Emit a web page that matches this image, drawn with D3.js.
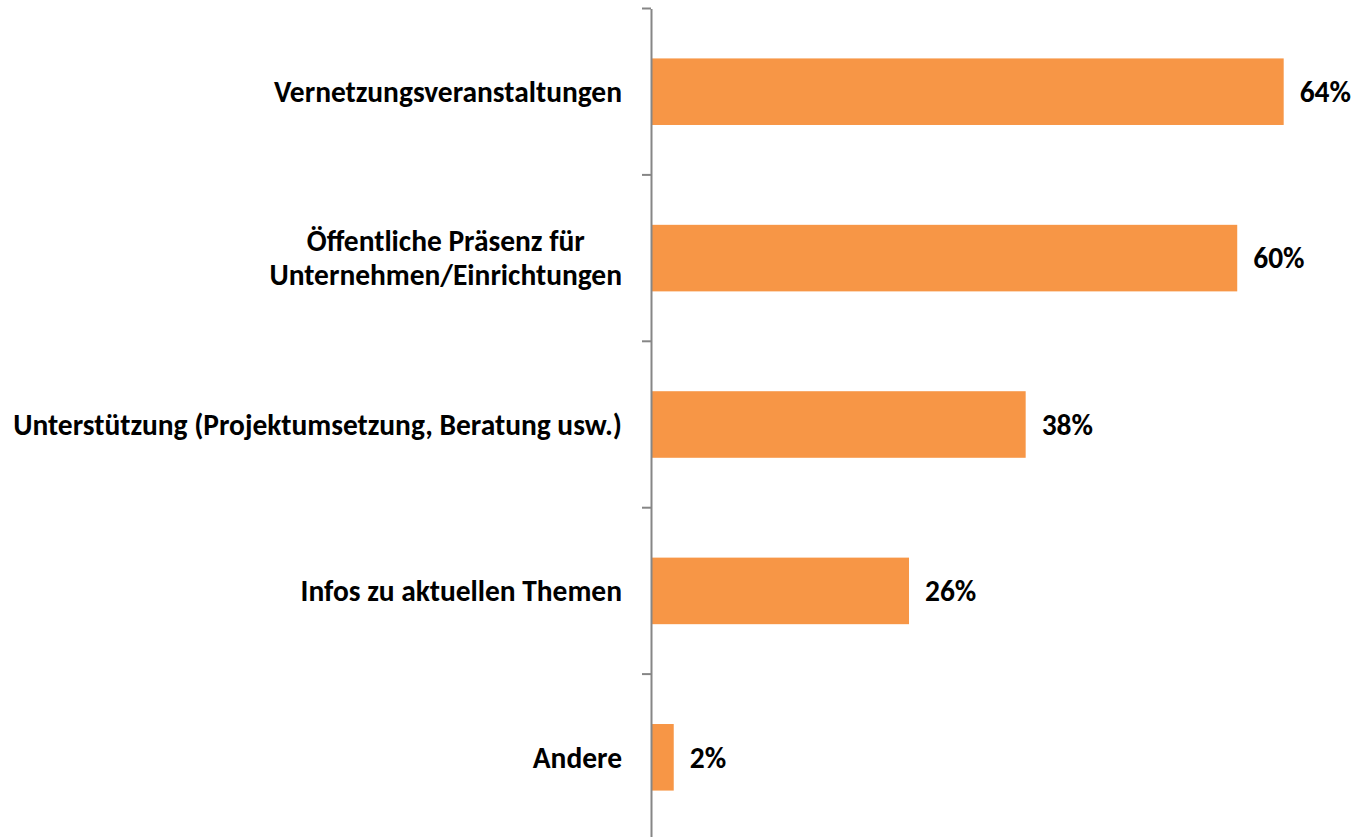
<!DOCTYPE html>
<html><head><meta charset="utf-8">
<script src="https://cdn.jsdelivr.net/npm/d3@7"></script>
<style>html,body{margin:0;padding:0;background:#fff;}svg{display:block;}</style>
</head><body>
<svg id="chart" width="1351" height="837"></svg>
<script>
const categories = [
  ["Vernetzungsveranstaltungen"],
  ["Öffentliche Präsenz für", "Unternehmen/Einrichtungen"],
  ["Unterstützung (Projektumsetzung, Beratung usw.)"],
  ["Infos zu aktuellen Themen"],
  ["Andere"]
];
const values = [64.0, 59.3, 37.9, 26.1, 2.3];
const valueLabels = ["64%", "60%", "38%", "26%", "2%"];

const W = 1351, H = 837;
const svg = d3.select("#chart");
const fontFamily = "Carlito, Lato, 'Open Sans', sans-serif";

const x = d3.scaleLinear().domain([0, 70]).range([651, 1343]);
const y = d3.scaleBand().domain(d3.range(categories.length)).range([8.5, 840.5]).padding(0);
const barH = y.bandwidth() * 0.4;

// bars
svg.selectAll("rect.bar").data(values).join("rect")
  .attr("class", "bar")
  .attr("x", x(0))
  .attr("y", (d, i) => y(i) + y.bandwidth() / 2 - barH / 2)
  .attr("width", d => x(d) - x(0))
  .attr("height", barH)
  .attr("fill", "#F79646");

// axis
const axis = d3.axisLeft(y).tickSize(0).tickFormat("");
const gAxis = svg.append("g").attr("transform", `translate(${x(0)},0)`).call(axis);
gAxis.select(".domain").attr("stroke", "#868686").attr("stroke-width", 2);
const bounds = d3.range(categories.length + 1).map(i => 8.5 + i * y.step());
gAxis.selectAll("line.bt").data(bounds).join("line")
  .attr("class", "bt")
  .attr("x1", -9).attr("x2", 0)
  .attr("y1", d => d).attr("y2", d => d)
  .attr("stroke", "#868686").attr("stroke-width", 2);

// category labels
const labels = svg.append("g");
const lineH = 34;
const labelRight = 622;
const catTexts = categories.map((lines, i) => {
  const cy = y(i) + y.bandwidth() / 2;
  const t = labels.append("text")
    .attr("class", "cat")
    .attr("text-anchor", lines.length > 1 ? "middle" : "end")
    .attr("font-family", fontFamily)
    .attr("font-weight", "bold")
    .attr("font-size", 24)
    .attr("fill", "#000");
  lines.forEach((ln, k) => {
    t.append("tspan").attr("x", labelRight)
      .attr("y", cy + (k - (lines.length - 1) / 2) * lineH)
      .attr("dy", "0.35em").text(ln);
  });
  return t;
});

// value labels
svg.selectAll("text.val").data(values).join("text")
  .attr("class", "val")
  .attr("x", d => x(d) + 16)
  .attr("y", (d, i) => y(i) + y.bandwidth() / 2)
  .attr("dy", "0.35em")
  .attr("font-family", fontFamily)
  .attr("font-weight", "bold")
  .attr("font-size", 24)
  .attr("fill", "#000")
  .text((d, i) => valueLabels[i]);

// fit font size to reference width of the longest label
const longest = labels.selectAll("tspan").nodes()
  .reduce((m, n) => Math.max(m, n.getComputedTextLength()), 0);
const fs = 24 * 609 / longest;
svg.selectAll("text").attr("font-size", fs);

// center multi-line labels within their right-aligned block
catTexts.forEach(t => {
  const spans = t.selectAll("tspan").nodes();
  if (spans.length > 1) {
    const mw = d3.max(spans, n => n.getComputedTextLength());
    t.selectAll("tspan").attr("x", labelRight - mw / 2);
  }
});
</script>
</body></html>
